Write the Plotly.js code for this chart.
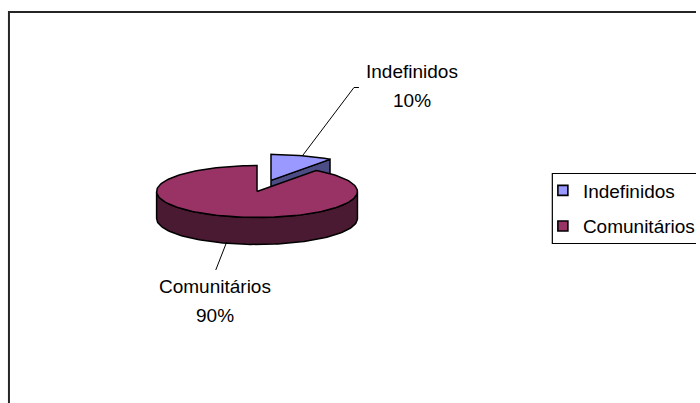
<!DOCTYPE html>
<html>
<head>
<meta charset="utf-8">
<script src="https://cdn.plot.ly/plotly-3.0.1.min.js"></script>
<style>html,body{margin:0;padding:0;background:#fff;}#chart{width:700px;height:403px;}</style>
</head>
<body>
<div id="chart"></div>
<script>
// ---- data ----
const categories = ["Indefinidos", "Comunitários"];
const values = [10, 90];

// ---- style ----
const topColors = ["#9999ff", "#993366"];
const sideColors = ["#4d4d86", "#4a1a33"];
const explode = [0.45, 0];
const FONT = "Liberation Sans, Arial, sans-serif";

// pie geometry (pixels, axes map 1:1 to pixels)
const cx = 258.5, cy = 191.5, ra = 101, rb = 26, depth = 27;

const total = values.reduce((s, v) => s + v, 0);
const deg = Math.PI / 180;

// slices start at 12 o'clock and go clockwise
let start = 90;
const slices = values.map((v, i) => {
  const sweep = v / total * 360;
  const s = { i, a0: start, a1: start - sweep };
  start -= sweep;
  const mid = (s.a0 + s.a1) / 2;
  s.dx = explode[i] * ra * Math.cos(mid * deg);
  s.dy = -explode[i] * rb * Math.sin(mid * deg);
  s.mid = mid;
  return s;
});

function pt(s, ang, down) {
  return [cx + s.dx + ra * Math.cos(ang * deg), cy + s.dy - rb * Math.sin(ang * deg) + (down ? depth : 0)];
}
function arc(s, from, to, down) {
  const n = Math.max(2, Math.ceil(Math.abs(from - to) / 2));
  const out = [];
  for (let k = 0; k <= n; k++) out.push(pt(s, from + (to - from) * k / n, down));
  return out;
}
function poly(points, color) {
  return {
    type: "scatter", mode: "lines", fill: "toself", fillcolor: color,
    x: points.map(p => p[0]), y: points.map(p => p[1]),
    line: { color: "#000", width: 1.5 }, hoverinfo: "skip", showlegend: false
  };
}

const traces = [];
// back slices first
const order = slices.slice().sort((p, q) => Math.sin(q.mid * deg) - Math.sin(p.mid * deg));
order.forEach(s => {
  const c = [cx + s.dx, cy + s.dy];
  const cd = [c[0], c[1] + depth];
  // radial side faces
  if (Math.cos(s.a1 * deg) > 1e-6) {
    const r = pt(s, s.a1, false), rd = pt(s, s.a1, true);
    traces.push(poly([c, r, rd, cd, c], sideColors[s.i]));
  }
  if (Math.cos(s.a0 * deg) < -1e-6) {
    const r = pt(s, s.a0, false), rd = pt(s, s.a0, true);
    traces.push(poly([c, r, rd, cd, c], sideColors[s.i]));
  }
  // outer rim (front half: angles between -180 and 0)
  for (let k = -1; k <= 1; k++) {
    const lo = Math.max(s.a1, -180 + 360 * k), hi = Math.min(s.a0, 0 + 360 * k);
    if (hi > lo) {
      const top = arc(s, hi, lo, false);
      const bot = arc(s, lo, hi, true);
      traces.push(poly(top.concat(bot, [top[0]]), sideColors[s.i]));
    }
  }
  // top face
  const face = [c].concat(arc(s, s.a0, s.a1, false), [c]);
  traces.push(poly(face, topColors[s.i]));
});

// legend entries
categories.forEach((cat, i) => {
  traces.push({
    type: "scatter", mode: "markers", x: [null], y: [null], name: cat,
    legendgroup: "g" + i,
    marker: { symbol: "square", size: 10, color: topColors[i], line: { color: "#000", width: 1.6 } }
  });
});

// labels
const labelPos = [[414.5, 71.5, 100], [216.5, 286.5, 315]];
const annotations = [];
categories.forEach((cat, i) => {
  const pct = Math.round(values[i] / total * 100) + "%";
  annotations.push({ x: labelPos[i][0], y: labelPos[i][1], xref: "x", yref: "y", text: cat, showarrow: false,
    xanchor: "center", yanchor: "middle", font: { family: FONT, size: 19, color: "#000" } });
  annotations.push({ x: labelPos[i][0], y: labelPos[i][2], xref: "x", yref: "y", text: pct, showarrow: false,
    xanchor: "center", yanchor: "middle", font: { family: FONT, size: 19, color: "#000" } });
});

const shapes = [
  { type: "rect", xref: "x", yref: "y", x0: 9, y0: 12, x1: 720, y1: 420, line: { color: "#262626", width: 2 } },
  { type: "rect", xref: "x", yref: "y", x0: 555.5, y0: 173.5, x1: 720, y1: 243.5, line: { color: "#000", width: 1.2 } },
  { type: "path", xref: "x", yref: "y", path: "M304,156 L356,87.5 L361,87.5", line: { color: "#000", width: 1 } },
  { type: "path", xref: "x", yref: "y", path: "M228,242 L217,270", line: { color: "#000", width: 1 } }
];

const layout = {
  width: 700, height: 403,
  margin: { l: 0, r: 0, t: 0, b: 0, pad: 0 },
  paper_bgcolor: "#fff", plot_bgcolor: "#fff",
  xaxis: { range: [0, 700], visible: false, fixedrange: true },
  yaxis: { range: [403, 0], visible: false, fixedrange: true },
  showlegend: true,
  legend: {
    x: 546 / 700, y: 1 - 171.5 / 403, xanchor: "left", yanchor: "top",
    bgcolor: "rgba(0,0,0,0)", borderwidth: 0, traceorder: "grouped", tracegroupgap: 8,
    font: { family: FONT, size: 19, color: "#000" }
  },
  annotations, shapes
};

Plotly.newPlot("chart", traces, layout, { staticPlot: true, displayModeBar: false });
</script>
</body>
</html>
